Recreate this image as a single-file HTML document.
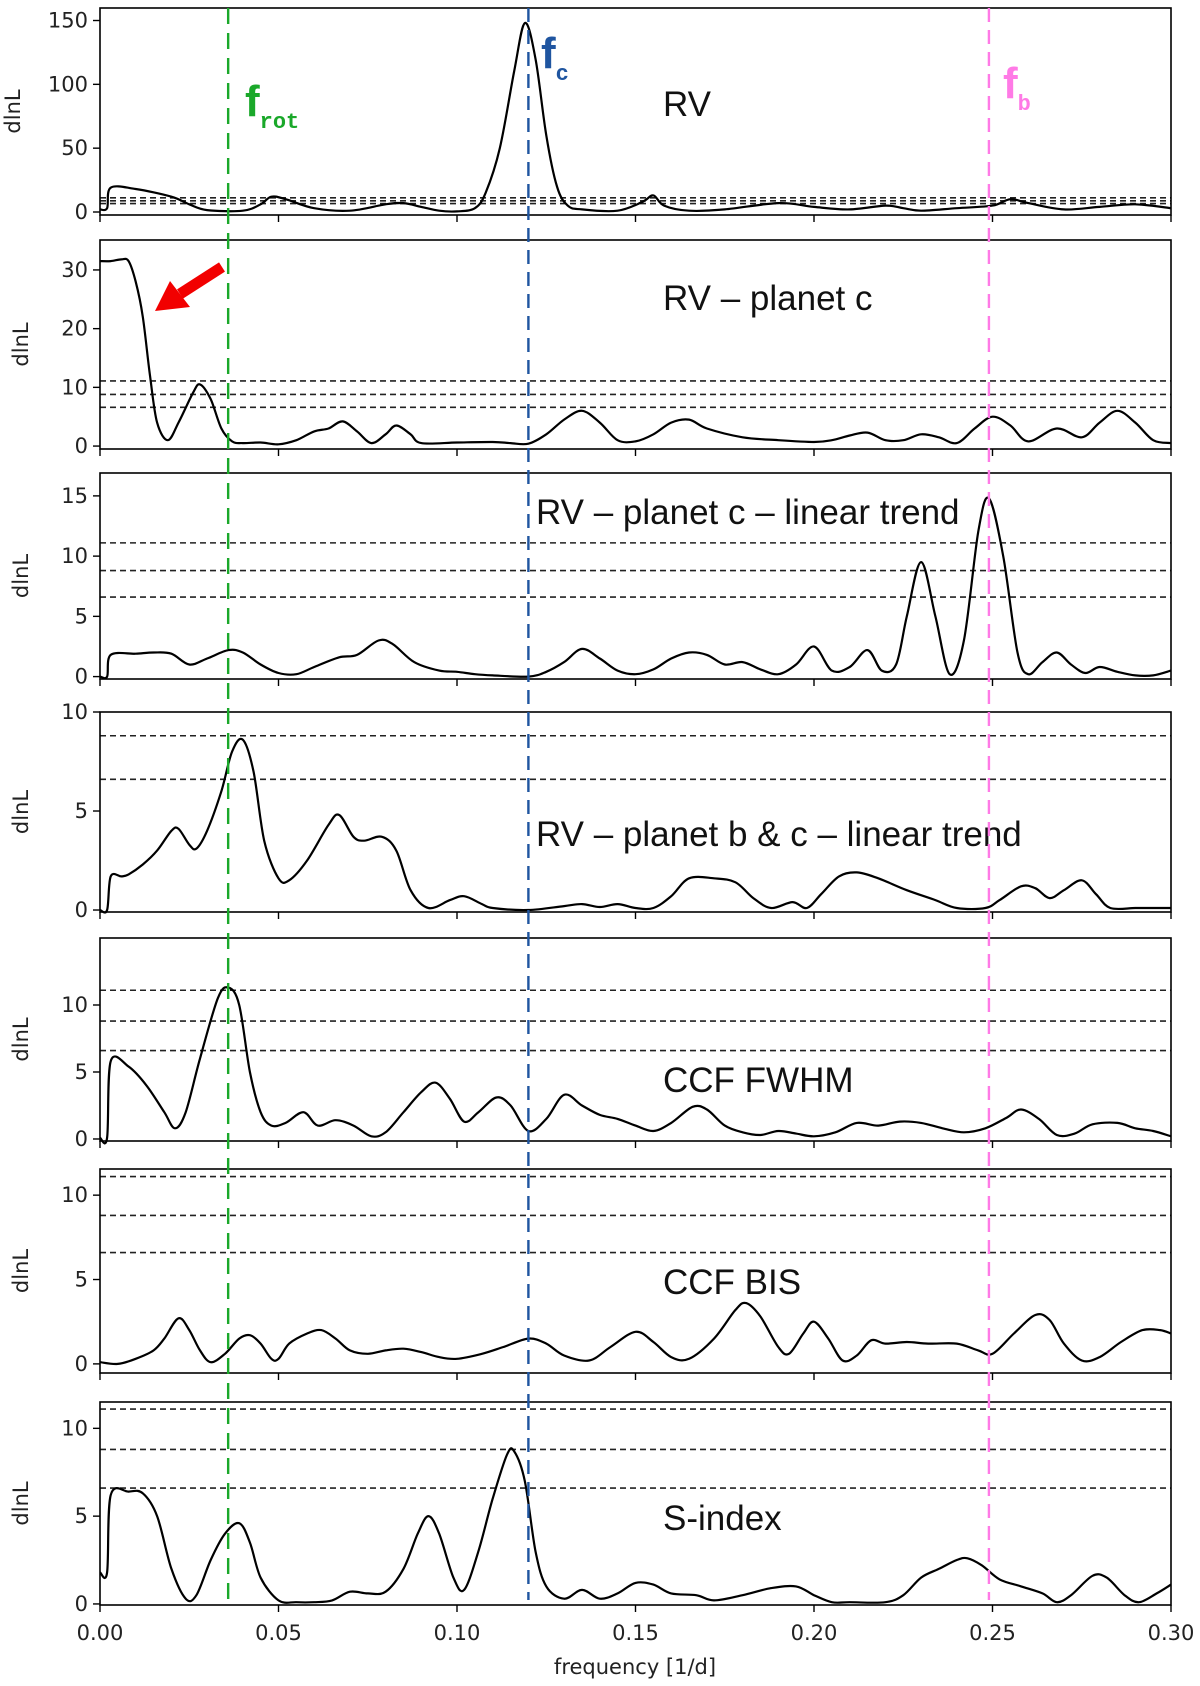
<!DOCTYPE html>
<html><head><meta charset="utf-8"><style>
html,body{margin:0;padding:0;background:#fff;}
svg{display:block;font-family:"Liberation Sans","DejaVu Sans",sans-serif;}
.tk{font-family:"DejaVu Sans","Liberation Sans",sans-serif;}
</style></head><body>
<svg id="chart" width="1200" height="1686" viewBox="0 0 1200 1686" xmlns="http://www.w3.org/2000/svg"></svg>
<script>
// ---- data (frequency [1/d], dlnL) ----
const rvF=[0,0.002,0.003,0.01,0.02,0.025,0.03,0.04,0.045,0.048,0.052,0.06,0.07,0.08,0.085,0.09,0.095,0.1,0.105,0.108,0.112,0.116,0.119,0.122,0.125,0.128,0.131,0.135,0.145,0.152,0.155,0.158,0.165,0.175,0.19,0.2,0.21,0.22,0.225,0.23,0.24,0.25,0.255,0.26,0.27,0.28,0.29,0.3];
const rvV=[2,3,19,18,12,6,1.5,1,6,12,10,3,1,6,7,4,1,0.5,3,15,50,110,148,120,60,20,5,2,1,8,13,5,1,2,7,4,2,5,3,1,3,5,10,7,2,4,6,3];
const rvcF=[0,0.003,0.006,0.008,0.01,0.012,0.014,0.016,0.019,0.022,0.026,0.028,0.031,0.034,0.037,0.04,0.045,0.05,0.055,0.06,0.064,0.068,0.072,0.076,0.08,0.083,0.087,0.09,0.1,0.11,0.115,0.12,0.125,0.13,0.135,0.14,0.145,0.15,0.155,0.16,0.165,0.17,0.18,0.19,0.2,0.205,0.21,0.215,0.22,0.225,0.23,0.235,0.24,0.245,0.25,0.255,0.26,0.268,0.275,0.28,0.285,0.29,0.295,0.3];
const rvcV=[31.5,31.5,31.8,31.5,28,22,12,4,1,4,9,10.5,8,3,0.8,0.5,0.6,0.3,1,2.5,3,4.2,2.5,0.5,2,3.5,2,0.5,0.6,0.7,0.5,0.4,2,4.5,6,4,1,0.8,2,4,4.5,3,1.5,1,0.7,1,1.8,2.3,1,1,2,1.5,0.5,3,5,3.5,0.8,3,1.5,4,6,4,1,0.5];
const rvclF=[0,0.002,0.003,0.01,0.015,0.02,0.025,0.03,0.036,0.04,0.045,0.05,0.055,0.06,0.067,0.072,0.078,0.082,0.088,0.095,0.1,0.105,0.11,0.12,0.125,0.13,0.135,0.14,0.145,0.15,0.155,0.16,0.165,0.17,0.175,0.18,0.185,0.19,0.195,0.2,0.205,0.21,0.215,0.219,0.223,0.226,0.23,0.234,0.238,0.242,0.246,0.249,0.253,0.257,0.26,0.264,0.268,0.272,0.276,0.28,0.285,0.29,0.295,0.3];
const rvclV=[0,0,1.8,1.9,2,1.9,1,1.5,2.2,2,1,0.3,0.2,0.8,1.6,1.8,3,2.7,1.2,0.5,0.4,0.2,0.1,0,0.4,1.2,2.3,1.5,0.5,0.2,0.6,1.5,2,1.8,1,1.2,0.6,0.2,1,2.5,0.5,0.8,2.2,0.5,1,5,9.5,5,0.2,3,12,14.8,10,2,0.2,1.2,2,1,0.3,0.8,0.4,0.1,0.1,0.5];
const rvbcF=[0,0.002,0.003,0.006,0.008,0.012,0.016,0.02,0.022,0.025,0.027,0.03,0.034,0.037,0.04,0.043,0.046,0.05,0.053,0.058,0.064,0.067,0.071,0.074,0.079,0.083,0.087,0.092,0.098,0.102,0.107,0.11,0.12,0.13,0.135,0.14,0.145,0.15,0.155,0.16,0.165,0.172,0.178,0.183,0.188,0.194,0.198,0.202,0.207,0.212,0.218,0.226,0.234,0.24,0.248,0.252,0.258,0.262,0.266,0.27,0.275,0.279,0.283,0.29,0.295,0.3];
const rvbcV=[0,0,1.7,1.7,1.8,2.3,3,4,4.1,3.3,3.1,4,6,8,8.6,7,3.5,1.6,1.5,2.5,4.3,4.8,3.7,3.5,3.7,3,1,0.1,0.5,0.7,0.3,0.1,0,0.2,0.3,0.15,0.3,0.1,0.1,0.7,1.6,1.6,1.4,0.6,0.1,0.4,0.1,0.8,1.7,1.9,1.6,1,0.5,0.1,0.1,0.5,1.2,1.1,0.6,1,1.5,0.8,0.1,0.1,0.1,0.1];
const fwF=[0,0.002,0.003,0.008,0.013,0.018,0.021,0.024,0.028,0.033,0.036,0.039,0.042,0.045,0.048,0.052,0.057,0.061,0.066,0.071,0.076,0.08,0.085,0.09,0.094,0.098,0.102,0.106,0.111,0.115,0.12,0.125,0.13,0.135,0.14,0.145,0.15,0.155,0.16,0.166,0.17,0.175,0.18,0.185,0.19,0.195,0.2,0.206,0.212,0.218,0.224,0.23,0.236,0.242,0.248,0.254,0.258,0.263,0.268,0.273,0.278,0.285,0.29,0.295,0.3];
const fwV=[0.1,0.1,5.8,5.4,4,2,0.8,2,6,10.5,11.3,10,5,2,1,1.2,2,1,1.4,1,0.2,0.5,2,3.5,4.2,3,1.3,2,3.1,2.5,0.6,1.5,3.3,2.5,1.8,1.5,1,0.6,1.2,2.4,2.2,1,0.5,0.3,0.6,0.4,0.2,0.5,1.2,1,1.3,1.2,0.8,0.5,0.8,1.6,2.2,1.5,0.3,0.4,1.1,1.2,0.8,0.6,0.2];
const bisF=[0,0.005,0.01,0.015,0.018,0.022,0.025,0.028,0.031,0.035,0.039,0.042,0.045,0.048,0.05,0.053,0.058,0.062,0.066,0.07,0.075,0.08,0.085,0.09,0.095,0.1,0.107,0.113,0.12,0.125,0.13,0.137,0.143,0.15,0.155,0.16,0.165,0.172,0.178,0.181,0.185,0.19,0.193,0.197,0.2,0.204,0.208,0.212,0.216,0.22,0.226,0.232,0.24,0.246,0.25,0.256,0.262,0.266,0.27,0.275,0.28,0.286,0.292,0.297,0.3];
const bisV=[0.1,0,0.3,0.8,1.5,2.7,2,0.8,0.1,0.6,1.5,1.7,1.2,0.3,0.3,1.2,1.8,2,1.5,0.8,0.6,0.8,0.9,0.7,0.4,0.3,0.6,1,1.5,1.2,0.5,0.2,1,1.9,1.3,0.4,0.3,1.5,3.2,3.6,2.8,1,0.6,1.8,2.5,1.5,0.2,0.5,1.4,1.2,1.3,1.2,1.2,0.8,0.6,1.8,2.9,2.6,1.2,0.2,0.4,1.3,2,2,1.8];
const sF=[0,0.002,0.003,0.008,0.012,0.016,0.02,0.024,0.027,0.031,0.035,0.039,0.042,0.045,0.05,0.055,0.06,0.065,0.07,0.075,0.08,0.085,0.089,0.092,0.095,0.099,0.102,0.106,0.11,0.114,0.116,0.119,0.122,0.125,0.13,0.135,0.14,0.145,0.15,0.155,0.16,0.167,0.172,0.18,0.188,0.195,0.2,0.205,0.21,0.22,0.225,0.23,0.235,0.24,0.243,0.247,0.252,0.258,0.264,0.268,0.272,0.278,0.282,0.287,0.291,0.296,0.3];
const sV=[1.8,1.8,6.2,6.4,6.3,5,2,0.3,0.5,2.5,4,4.6,3.5,1.5,0.2,0.1,0.1,0.2,0.7,0.6,0.7,2,4,5,4,1.5,0.8,3,6,8.5,8.7,7,3,1,0.3,0.8,0.3,0.6,1.2,1.1,0.6,0.5,0.2,0.5,0.9,1,0.5,0.1,0.1,0.1,0.5,1.5,2,2.5,2.6,2.2,1.4,1,0.6,0.1,0.5,1.6,1.5,0.5,0.1,0.6,1.1];
const levels=[11.1,8.8,6.6];
const xTicks=[0,0.05,0.1,0.15,0.2,0.25,0.3];
const xTickLabels=["0.00","0.05","0.10","0.15","0.20","0.25","0.30"];
const markerFreqs=[0.0359,0.12,0.249];

const panels=[
 {name:"rv",title:"RV",tx:663,F:rvF,V:rvV,top:8,bot:215,ymin:-2.35,ymax:159.8,ticks:[0,50,100,150],yl:20},
 {name:"rv-minus-c",title:"RV – planet c",tx:663,F:rvcF,V:rvcV,top:240,bot:449,ymin:-0.5,ymax:35.1,ticks:[0,10,20,30],yl:28},
 {name:"rv-minus-c-trend",title:"RV – planet c – linear trend",tx:536,F:rvclF,V:rvclV,top:473,bot:679,ymin:-0.2,ymax:16.9,ticks:[0,5,10,15],yl:28},
 {name:"rv-minus-bc-trend",title:"RV – planet b & c – linear trend",tx:536,F:rvbcF,V:rvbcV,top:712,bot:912,ymin:-0.1,ymax:10,ticks:[0,5,10],yl:28},
 {name:"ccf-fwhm",title:"CCF FWHM",tx:663,F:fwF,V:fwV,top:938,bot:1141,ymin:-0.15,ymax:15,ticks:[0,5,10],yl:28},
 {name:"ccf-bis",title:"CCF BIS",tx:663,F:bisF,V:bisV,top:1169,bot:1373,ymin:-0.54,ymax:11.55,ticks:[0,5,10],yl:28},
 {name:"s-index",title:"S-index",tx:663,F:sF,V:sV,top:1402,bot:1605,ymin:-0.06,ymax:11.5,ticks:[0,5,10],yl:28}
];
const titleY=[116,310,524,846,1092,1294,1530];

const NS="http://www.w3.org/2000/svg";
const svg=document.getElementById('chart');
const X0=100,X1=1171,FMAX=0.3;
const xs=f=>X0+(X1-X0)*f/FMAX;
function mk(tag,attrs,parent){const e=document.createElementNS(NS,tag);for(const k in attrs)e.setAttribute(k,attrs[k]);(parent||svg).appendChild(e);return e;}
function smooth(pts){let d="M"+pts[0][0].toFixed(1)+","+pts[0][1].toFixed(1);
 for(let i=0;i<pts.length-1;i++){const p0=pts[Math.max(0,i-1)],p1=pts[i],p2=pts[i+1],p3=pts[Math.min(pts.length-1,i+2)];
  const c1=[p1[0]+(p2[0]-p0[0])/6,p1[1]+(p2[1]-p0[1])/6],c2=[p2[0]-(p3[0]-p1[0])/6,p2[1]-(p3[1]-p1[1])/6];
  d+=" C"+c1[0].toFixed(1)+","+c1[1].toFixed(1)+" "+c2[0].toFixed(1)+","+c2[1].toFixed(1)+" "+p2[0].toFixed(1)+","+p2[1].toFixed(1);}
 return d;}

panels.forEach((p,pi)=>{
 const ys=v=>p.bot-(v-p.ymin)/(p.ymax-p.ymin)*(p.bot-p.top);
 const g=mk('g',{});
 
 
 levels.forEach((l,li)=>{if(l>=p.ymax)return;
  const ln=mk('line',{x1:X0,x2:X1,y1:ys(l),y2:ys(l),stroke:'#222','stroke-width':1.6,'stroke-dasharray':'6,4'},g);
  
  });
 const pts=p.F.map((f,i)=>[xs(f),ys(p.V[i])]);
 const path=mk('path',{d:smooth(pts),fill:'none',stroke:'#000','stroke-width':2.2},g);
 
 
 const fr=mk('rect',{x:X0,y:p.top,width:X1-X0,height:p.bot-p.top,fill:'none',stroke:'#000','stroke-width':1.6},g);
 
 
 p.ticks.forEach(t=>{const y=ys(t);mk('line',{x1:X0-7,x2:X0,y1:y,y2:y,stroke:'#000','stroke-width':1.4},g);
  const tl=mk('text',{x:X0-12,y:y+7,'text-anchor':'end','font-size':21,fill:'#222','class':'tk'},g);tl.textContent=t;
  
  });
 xTicks.forEach(t=>mk('line',{x1:xs(t),x2:xs(t),y1:p.bot,y2:p.bot+7,stroke:'#000','stroke-width':1.4},g));
 const cy=(p.top+p.bot)/2;
 const yl=mk('text',{x:p.yl,y:cy,'text-anchor':'middle','font-size':21,fill:'#222','class':'tk',transform:'rotate(-90 '+p.yl+' '+cy+')'},g);
 yl.textContent='dlnL';
 
 
 const tt=mk('text',{x:p.tx,y:titleY[pi],'font-size':35,fill:'#111'},g);
 tt.textContent=p.title;
 
 
});

xTicks.forEach((t,i)=>{const tl=mk('text',{x:xs(t),y:1640,'text-anchor':'middle','font-size':21,fill:'#222','class':'tk'});tl.textContent=xTickLabels[i];
 
 });
const xl=mk('text',{x:635,y:1674,'text-anchor':'middle','font-size':21,fill:'#222','class':'tk'});xl.textContent='frequency [1/d]';



const mcol=['#1aa82a','#1f55a0','#ff7ae6'];
const mdash=['16,9','14,8','14,8'];
markerFreqs.forEach((f,i)=>{const ln=mk('line',{x1:xs(f),x2:xs(f),y1:8,y2:1600,stroke:mcol[i],'stroke-width':2.4,'stroke-dasharray':mdash[i]});
 
 });

function flabel(x,y,sub,col,name){const t=mk('text',{x:x,y:y,fill:col,'font-weight':'bold','font-size':44});
 
 
 t.appendChild(document.createTextNode('f'));
 const s=document.createElementNS(NS,'tspan');s.setAttribute('dy','12');s.setAttribute('font-size','22');s.setAttribute('font-family','"Liberation Mono",monospace');s.textContent=sub;t.appendChild(s);}
flabel(245,116,'rot',mcol[0],'f-rot-label');
flabel(541,68,'c',mcol[1],'f-c-label');
flabel(1003,98,'b',mcol[2],'f-b-label');

const ar=mk('g',{});


mk('line',{x1:222,y1:267,x2:180,y2:294,stroke:'#f20000','stroke-width':11},ar);
mk('polygon',{points:'155,311 170,281 190,307',fill:'#f20000'},ar);
</script>
</body></html>
